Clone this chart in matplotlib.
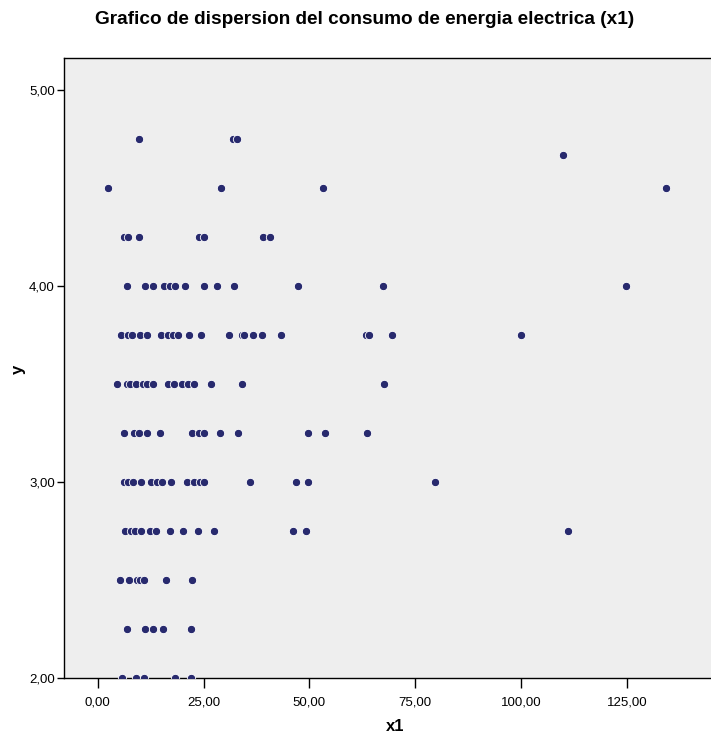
import matplotlib
matplotlib.use('Agg')
import matplotlib.pyplot as plt

plt.rcParams['font.family'] = ['Liberation Sans', 'DejaVu Sans']

# consumo de energia electrica (x1) frente a y
x1 = [9.7, 32.0, 32.8,
      110.0,
      2.4, 29.1, 53.3, 134.3,
      6.3, 7.1, 9.7, 24.0, 25.0, 39.1, 40.7,
      6.85, 11.25, 13.1, 15.7, 17.0, 18.3, 20.7, 25.0, 28.1, 32.3, 47.4, 67.4, 124.8,
      5.6, 7.2, 8.2, 10.0, 11.6, 15.0, 16.7, 17.9, 19.0, 21.5, 24.4, 31.0, 34.0,
      34.6, 36.8, 38.7, 43.3, 63.5, 64.0, 69.5, 100.0,
      4.6, 6.85, 7.55, 9.05, 10.6, 11.7, 13.0, 16.7, 18.0, 19.9, 21.3, 22.8, 26.8,
      34.0, 67.7,
      6.2, 8.6, 9.7, 11.7, 14.6, 22.3, 24.0, 25.0, 28.8, 33.1, 49.8, 53.7, 63.6,
      6.2, 7.2, 8.4, 10.2, 12.5, 13.9, 15.1, 17.2, 21.0, 22.8, 24.2, 25.2, 35.9,
      46.9, 49.6, 79.7,
      6.45, 7.9, 8.7, 10.2, 12.4, 13.7, 17.0, 20.2, 23.8, 27.4, 46.2, 49.2, 111.1,
      5.35, 7.4, 9.2, 10.1, 10.9, 16.2, 22.3,
      6.85, 11.2, 13.1, 15.5, 22.0,
      5.75, 9.1, 10.9, 18.3, 22.0]
y = [4.75, 4.75, 4.75,
     4.67,
     4.5, 4.5, 4.5, 4.5,
     4.25, 4.25, 4.25, 4.25, 4.25, 4.25, 4.25,
     4.0, 4.0, 4.0, 4.0, 4.0, 4.0, 4.0, 4.0, 4.0, 4.0, 4.0, 4.0, 4.0,
     3.75, 3.75, 3.75, 3.75, 3.75, 3.75, 3.75, 3.75, 3.75, 3.75, 3.75, 3.75, 3.75,
     3.75, 3.75, 3.75, 3.75, 3.75, 3.75, 3.75, 3.75,
     3.5, 3.5, 3.5, 3.5, 3.5, 3.5, 3.5, 3.5, 3.5, 3.5, 3.5, 3.5, 3.5,
     3.5, 3.5,
     3.25, 3.25, 3.25, 3.25, 3.25, 3.25, 3.25, 3.25, 3.25, 3.25, 3.25, 3.25, 3.25,
     3.0, 3.0, 3.0, 3.0, 3.0, 3.0, 3.0, 3.0, 3.0, 3.0, 3.0, 3.0, 3.0,
     3.0, 3.0, 3.0,
     2.75, 2.75, 2.75, 2.75, 2.75, 2.75, 2.75, 2.75, 2.75, 2.75, 2.75, 2.75, 2.75,
     2.5, 2.5, 2.5, 2.5, 2.5, 2.5, 2.5,
     2.25, 2.25, 2.25, 2.25, 2.25,
     2.0, 2.0, 2.0, 2.0, 2.0]

xticks = [0, 25, 50, 75, 100, 125]
xtick_labels = ['0,00', '25,00', '50,00', '75,00', '100,00', '125,00']
yticks = [2, 3, 4, 5]
ytick_labels = ['2,00', '3,00', '4,00', '5,00']

fig = plt.figure(figsize=(7.11, 7.38), dpi=100)
ax = fig.add_axes([0.0907, 0.0813, 0.9093, 0.8397])
ax.set_facecolor('#eeeeee')

ax.scatter(x1, y, s=36, color='#282a6e', edgecolors='white', linewidths=0.6, zorder=3)

ax.set_xlim(-7.85, 144.9)
ax.set_ylim(2.0, 5.162)
ax.set_xticks(xticks)
ax.set_xticklabels(xtick_labels)
ax.set_yticks(yticks)
ax.set_yticklabels(ytick_labels)
ax.tick_params(axis='x', direction='out', length=7, width=1, labelsize=9.5, pad=6)
ax.tick_params(axis='y', direction='out', length=5, width=1, labelsize=9.5, pad=2)

ax.spines['right'].set_visible(False)
for side in ['left', 'top', 'bottom']:
    ax.spines[side].set_linewidth(1.0)
    ax.spines[side].set_color('black')

ax.set_xlabel('x1', fontsize=12, fontweight='bold')
ax.set_ylabel('y', fontsize=12, fontweight='bold')
ax.xaxis.set_label_coords(0.511, -0.079)
ax.yaxis.set_label_coords(-0.072, 0.498)
ax.xaxis.label.set_va('center')
ax.yaxis.label.set_va('center')

fig.text(0.513, 0.973, 'Grafico de dispersion del consumo de energia electrica (x1)',
         ha='center', va='center', fontsize=13.7, fontweight='bold')

fig.savefig('out.png', dpi=100)
